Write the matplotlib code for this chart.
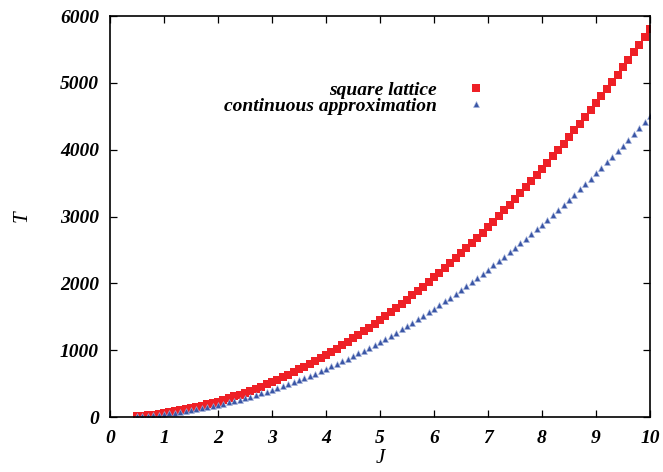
import matplotlib
matplotlib.use("Agg")
import matplotlib.pyplot as plt

# J values (x axis)
J = [0.5, 0.6, 0.7, 0.8, 0.9, 1.0, 1.1, 1.2, 1.3, 1.4,
     1.5, 1.6, 1.7, 1.8, 1.9, 2.0, 2.1, 2.2, 2.3, 2.4,
     2.5, 2.6, 2.7, 2.8, 2.9, 3.0, 3.1, 3.2, 3.3, 3.4,
     3.5, 3.6, 3.7, 3.8, 3.9, 4.0, 4.1, 4.2, 4.3, 4.4,
     4.5, 4.6, 4.7, 4.8, 4.9, 5.0, 5.1, 5.2, 5.3, 5.4,
     5.5, 5.6, 5.7, 5.8, 5.9, 6.0, 6.1, 6.2, 6.3, 6.4,
     6.5, 6.6, 6.7, 6.8, 6.9, 7.0, 7.1, 7.2, 7.3, 7.4,
     7.5, 7.6, 7.7, 7.8, 7.9, 8.0, 8.1, 8.2, 8.3, 8.4,
     8.5, 8.6, 8.7, 8.8, 8.9, 9.0, 9.1, 9.2, 9.3, 9.4,
     9.5, 9.6, 9.7, 9.8, 9.9, 10.0]

# T for the square lattice (red squares)
T_square = [15, 21, 28, 37, 47, 58, 70, 84, 98, 114,
            131, 148, 168, 188, 209, 232, 256, 281, 307, 334,
            363, 392, 423, 455, 488, 522, 557, 594, 632, 670,
            711, 752, 794, 838, 882, 928, 975, 1023, 1072, 1123,
            1175, 1227, 1281, 1336, 1393, 1450, 1509, 1568, 1629, 1691,
            1755, 1819, 1884, 1951, 2019, 2088, 2158, 2230, 2302, 2376,
            2451, 2526, 2604, 2682, 2761, 2842, 2924, 3007, 3091, 3176,
            3263, 3350, 3439, 3529, 3620, 3712, 3805, 3900, 3996, 4092,
            4191, 4290, 4390, 4492, 4594, 4698, 4803, 4909, 5016, 5125,
            5235, 5345, 5457, 5570, 5685, 5800]

# T for the continuous approximation (blue triangles)
T_cont = [11, 16, 22, 29, 36, 45, 54, 65, 76, 88,
          101, 115, 130, 146, 162, 180, 198, 218, 238, 259,
          281, 304, 328, 353, 378, 405, 432, 461, 490, 520,
          551, 583, 616, 650, 684, 720, 756, 794, 832, 871,
          911, 952, 994, 1037, 1080, 1125, 1170, 1217, 1264, 1312,
          1361, 1411, 1462, 1514, 1566, 1620, 1674, 1730, 1786, 1843,
          1901, 1960, 2020, 2081, 2142, 2205, 2268, 2333, 2398, 2464,
          2531, 2599, 2668, 2738, 2808, 2880, 2952, 3026, 3100, 3175,
          3251, 3328, 3406, 3485, 3564, 3645, 3726, 3809, 3892, 3976,
          4061, 4147, 4234, 4322, 4410, 4500]

xticks = [0, 1, 2, 3, 4, 5, 6, 7, 8, 9, 10]
yticks = [0, 1000, 2000, 3000, 4000, 5000, 6000]

plt.rcParams['font.family'] = ['Liberation Serif', 'DejaVu Serif']
plt.rcParams['font.weight'] = 'bold'
plt.rcParams['font.style'] = 'italic'

fig = plt.figure(figsize=(6.63, 4.72), dpi=100)
ax = fig.add_axes([0.1659, 0.1165, 0.8145, 0.8495])

ax.plot(J, T_square, linestyle='none', marker='s', markersize=5.5,
        color='#ee2026', markeredgewidth=0, label='square lattice')
ax.plot(J, T_cont, linestyle='none', marker='^', markersize=4.8,
        color='#3a56a6', markeredgecolor='#a9b6dc', markeredgewidth=0.4,
        label='continuous approximation')

ax.set_xlim(0, 10)
ax.set_ylim(0, 6000)
ax.set_xticks(xticks)
ax.set_yticks(yticks)
ax.tick_params(direction='in', length=5, width=0.9, top=True, right=True,
               labelsize=14)
ax.tick_params(axis='x', pad=9)
ax.tick_params(axis='y', pad=8)
for s in ax.spines.values():
    s.set_linewidth(1.2)

ax.set_xlabel('J', fontsize=15, labelpad=2)
ax.set_ylabel('T', fontsize=15, labelpad=20)

leg = ax.legend(loc='upper right', bbox_to_anchor=(0.696, 0.837), frameon=False,
                markerfirst=False, fontsize=14, handlelength=1.0,
                handletextpad=1.5, labelspacing=-0.1, borderpad=0,
                borderaxespad=0)
leg._legend_box.align = 'right'

fig.savefig('out.png', dpi=100)
